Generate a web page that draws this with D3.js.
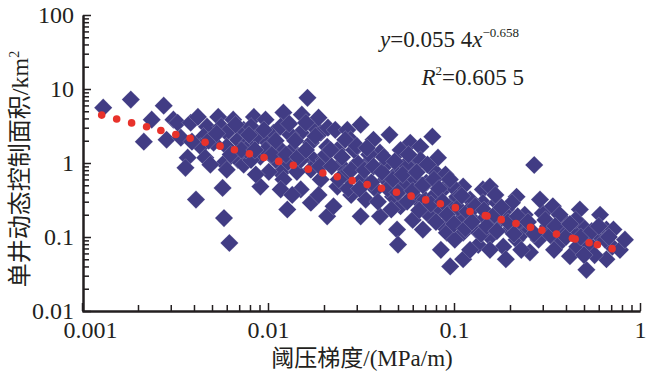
<!DOCTYPE html>
<html>
<head>
<meta charset="utf-8">
<script src="https://cdn.jsdelivr.net/npm/d3@7"></script>
<style>
  body { margin: 0; background: #fff; }
  svg { display: block; }
</style>
</head>
<body>
<div id="chart"></div>
<script>
// wells: [threshold pressure gradient (MPa/m), single well dynamic control area (km2)]
const wells = [
  [0.0013,5.6],[0.00183,7.2],[0.00215,1.94],[0.00237,3.85],[0.00275,5.95],[0.00285,2.06],[0.0031,3.85],
  [0.00327,3.5],[0.0034,2.2],[0.0037,1.18],[0.0036,0.86],[0.0041,0.32],[0.00384,3.5],[0.0042,4.2],
  [0.0047,3.1],[0.0045,2.27],[0.00435,1.66],[0.0054,4.2],[0.0056,3.1],[0.006,2.56],[0.0051,1.88],
  [0.006,1.66],[0.0058,1.0],[0.006,0.81],[0.0057,0.46],[0.0058,0.18],[0.0062,0.083],[0.0069,2.06],
  [0.0074,2.8],[0.0078,1.88],[0.0084,4.2],[0.0081,3.1],[0.0088,2.27],[0.0069,1.1],[0.0074,0.95],
  [0.0091,1.22],[0.01,1.88],[0.0091,0.48],[0.0107,2.56],[0.0113,1.66],[0.0121,4.8],[0.0117,3.1],
  [0.0127,1.0],[0.0117,0.74],[0.0121,0.6],[0.0117,0.44],[0.0127,0.235],[0.015,0.44],[0.0163,7.6],
  [0.015,2.56],[0.0176,3.1],[0.017,1.88],[0.0192,2.56],[0.0176,1.1],[0.017,0.81],[0.0192,0.6],
  [0.017,0.29],[0.0208,0.19],[0.0208,1.66],[0.0097,1.5],[0.0135,1.5],[0.0143,0.76],[0.0101,0.76],
  [0.0081,1.1],[0.0046,1.18],[0.0039,1.94],[0.0065,3.85],[0.0097,3.85],[0.0132,2.4],[0.0152,4.5],
  [0.0187,4.1],[0.02,1.1],[0.015,1.1],[0.0187,0.37],[0.0049,0.95],[0.0076,1.5],[0.0086,0.7],
  [0.011,1.1],[0.0135,0.37],
  [0.0048,2.0],[0.0053,2.5],[0.0063,1.3],[0.0067,3.3],[0.0072,1.5],[0.0079,2.4],[0.0085,1.5],
  [0.0095,2.8],[0.0105,1.3],[0.011,2.0],[0.0125,1.3],[0.013,3.4],[0.014,2.0],[0.0145,1.2],
  [0.016,1.5],[0.016,3.5],[0.018,2.3],[0.019,0.9],[0.0205,1.3],[0.021,3.0],
  [0.023,2.8],[0.0267,2.8],[0.0278,2.06],[0.0236,1.5],[0.0369,2.06],[0.04,1.38],[0.0344,1.0],
  [0.0303,1.0],[0.0236,0.48],[0.0225,0.26],[0.0315,0.19],[0.04,0.19],[0.047,0.35],[0.0494,0.74],
  [0.0582,1.88],[0.066,1.66],[0.0765,2.27],[0.0602,0.9],[0.0772,0.81],[0.071,0.54],[0.058,0.48],
  [0.0635,0.32],[0.0516,0.26],[0.06,0.17],[0.0494,0.126],[0.05,0.079],[0.068,0.126],[0.0877,0.14],
  [0.0954,0.26],[0.0877,0.44],[0.104,0.35],[0.112,0.48],[0.0915,0.114],[0.112,0.114],[0.121,0.19],
  [0.143,0.44],[0.156,0.48],[0.143,0.29],[0.17,0.29],[0.177,0.17],[0.156,0.1],[0.184,0.074],
  [0.217,0.092],[0.235,0.114],[0.256,0.062],[0.217,0.35],[0.27,0.94],[0.0954,0.04],[0.112,0.05],
  [0.217,0.155],[0.3,0.21],[0.34,0.26],[0.32,0.14],[0.385,0.17],[0.37,0.083],[0.42,0.055],
  [0.475,0.235],[0.49,0.14],[0.515,0.036],[0.58,0.114],[0.66,0.126],[0.66,0.05],[0.71,0.074],
  [0.44,0.114],[0.46,0.074],
  [0.0245,0.95],[0.026,0.7],[0.028,0.37],[0.029,1.5],[0.032,0.6],[0.0335,0.32],[0.035,1.3],
  [0.038,0.44],[0.043,0.95],[0.043,0.6],[0.045,2.4],[0.046,0.235],[0.0516,1.5],[0.054,0.51],
  [0.055,0.95],[0.062,0.6],[0.066,1.1],[0.07,0.32],[0.073,0.2],[0.079,0.37],[0.082,1.18],
  [0.09,0.7],[0.085,0.235],[0.097,0.5],[0.101,0.092],[0.108,0.17],[0.122,0.32],[0.131,0.126],
  [0.135,0.078],[0.147,0.18],[0.16,0.145],[0.167,0.37],[0.19,0.235],[0.2,0.126],[0.205,0.29],
  [0.24,0.2],[0.256,0.126],[0.285,0.092],[0.29,0.32],[0.33,0.106],[0.345,0.067],[0.39,0.126],
  [0.45,0.17],[0.54,0.078],[0.57,0.057],[0.61,0.2],[0.65,0.092],[0.72,0.126],[0.78,0.067],
  [0.83,0.092],[0.5,0.057],[0.37,0.2],[0.23,0.067],[0.19,0.05],[0.156,0.067],[0.122,0.067],
  [0.085,0.067],[0.0315,3.3],[0.026,2.06],[0.0217,1.5],
  [0.022,0.9],[0.024,0.6],[0.025,1.2],[0.027,0.45],[0.028,0.8],[0.03,1.7],[0.031,0.45],
  [0.033,0.8],[0.034,1.6],[0.036,0.55],[0.037,0.9],[0.039,0.3],[0.041,0.75],[0.042,1.2],
  [0.044,0.45],[0.047,0.6],[0.048,1.05],[0.05,0.4],[0.053,0.7],[0.056,0.3],[0.057,1.3],
  [0.06,0.42],[0.063,0.75],[0.065,0.23],[0.068,0.5],[0.072,0.95],[0.075,0.28],[0.078,0.6],
  [0.08,0.16],[0.083,0.45],[0.087,0.3],[0.092,0.2],[0.095,0.6],[0.1,0.15],[0.105,0.25],
  [0.11,0.36],[0.115,0.13],[0.118,0.22],[0.125,0.16],[0.13,0.26],[0.14,0.11],[0.145,0.23],
  [0.15,0.14],[0.165,0.2],[0.17,0.12],[0.18,0.25],[0.195,0.16],[0.21,0.11],[0.22,0.19],
  [0.25,0.16],[0.27,0.11],[0.31,0.17],[0.35,0.14],[0.4,0.1],[0.42,0.15],[0.48,0.1],
  [0.55,0.12],[0.6,0.14],[0.68,0.1]
];

// power-law trend line, drawn as round dots
const trendX = [0.001276,0.001536,0.001848,0.002225,0.002655,0.003194,0.003813,0.004588,0.005524,
  0.006597,0.007943,0.00952,0.01141,0.01368,0.01647,0.01972,0.02357,0.02836,0.03414,0.04074,
  0.04904,0.05881,0.07045,0.08447,0.1017,0.1219,0.1473,0.1505,0.1795,0.2153,0.2578,0.2968,
  0.3555,0.4332,0.448,0.5325,0.5902,0.7077];
const trendY = [4.44,3.94,3.48,3.09,2.75,2.43,2.16,1.91,1.69,1.51,1.33,1.185,1.051,0.933,0.826,
  0.733,0.652,0.577,0.511,0.455,0.403,0.357,0.317,0.2816,0.2492,0.2212,0.1953,0.1925,0.1715,
  0.1522,0.1351,0.1232,0.1094,0.096,0.0939,0.0838,0.0784,0.0696];

const xMajor = [0.001, 0.01, 0.1, 1];
const xLabels = ["0.001", "0.01", "0.1", "1"];
const yMajor = [0.01, 0.1, 1, 10, 100];
const yLabels = ["0.01", "0.1", "1", "10", "100"];

const width = 650, height = 374;
const navy = "#413c84", red = "#e8322b", ink = "#231f20";
const serif = "'Liberation Serif','Times New Roman',serif";
const cjk = "'Noto Sans CJK SC',sans-serif";

let svg = d3.select("#chart").append("svg")
  .attr("width", width)
  .attr("height", height);

let x = d3.scaleLog().domain([0.001, 1]).range([82, 640]);
let y = d3.scaleLog().domain([0.01, 100]).range([311, 15]);

// scatter
let diamond = d3.symbol().type(d3.symbolSquare).size(165);
svg.append("g")
  .selectAll("path")
  .data(wells)
  .join("path")
  .attr("d", diamond)
  .attr("transform", d => `translate(${x(d[0])},${y(d[1])}) rotate(45)`)
  .attr("fill", navy)
  .attr("stroke", "#ffffff")
  .attr("stroke-opacity", 0.35)
  .attr("stroke-width", 0.5);

// trend dots
svg.append("g")
  .selectAll("circle")
  .data(trendX)
  .join("circle")
  .attr("cx", d => x(d))
  .attr("cy", (d, i) => y(trendY[i]))
  .attr("r", 3.8)
  .attr("fill", red);

// axes
let xMinor = x.ticks().filter(v => !xMajor.includes(v));
let yMinor = y.ticks().filter(v => !yMajor.some(m => Math.abs(m - v) < 1e-9));

function styleAxis(g){
  g.select(".domain").attr("stroke", ink).attr("stroke-width", 2);
  g.selectAll(".tick line").attr("stroke", ink).attr("stroke-width", 1.5);
  g.selectAll("text").attr("font-size", 24).attr("fill", ink).style("font-family", serif);
}

svg.append("g")
  .attr("transform", "translate(0,311)")
  .call(d3.axisBottom(x).tickValues(xMinor).tickSize(-6).tickSizeOuter(0).tickFormat(""))
  .call(styleAxis);
let xAx = svg.append("g")
  .attr("transform", "translate(0,311)")
  .call(d3.axisBottom(x).tickValues(xMajor).tickSize(-8).tickSizeOuter(0).tickPadding(10)
    .tickFormat((d, i) => xLabels[i]))
  .call(styleAxis);
xAx.selectAll(".tick text").filter(d => d === 0.001).attr("x", 8);

svg.append("g")
  .attr("transform", "translate(83,0)")
  .call(d3.axisLeft(y).tickValues(yMinor).tickSize(-6).tickSizeOuter(0).tickFormat(""))
  .call(styleAxis);
svg.append("g")
  .attr("transform", "translate(83,0)")
  .call(d3.axisLeft(y).tickValues(yMajor).tickSize(-8).tickSizeOuter(0).tickPadding(9)
    .tickFormat((d, i) => yLabels[i]))
  .call(styleAxis);

// axis titles
let xt = svg.append("text")
  .attr("x", 362)
  .attr("y", 366)
  .attr("text-anchor", "middle")
  .attr("font-size", 23)
  .attr("fill", ink)
  .style("font-family", serif);
xt.append("tspan").style("font-family", cjk).text("阈压梯度");
xt.append("tspan").style("font-family", serif).text("/(MPa/m)");

let yt = svg.append("text")
  .attr("transform", "translate(28,169) rotate(-90)")
  .attr("text-anchor", "middle")
  .attr("font-size", 24)
  .attr("fill", ink)
  .style("font-family", serif);
yt.append("tspan").style("font-family", cjk).text("单井动态控制面积");
yt.append("tspan").style("font-family", serif).text("/km");
yt.append("tspan").style("font-family", serif).attr("font-size", 14).attr("dy", -9).text("2");

// equation
let eq = svg.append("text")
  .attr("x", 380)
  .attr("y", 47)
  .attr("font-size", 23)
  .attr("fill", ink)
  .style("font-family", serif);
eq.append("tspan").attr("font-style", "italic").text("y");
eq.append("tspan").text("=0.055 4");
eq.append("tspan").attr("font-style", "italic").text("x");
eq.append("tspan").attr("font-size", 13).attr("dy", -10).text("\u22120.658");

let r2 = svg.append("text")
  .attr("x", 524)
  .attr("y", 85)
  .attr("text-anchor", "end")
  .attr("font-size", 23)
  .attr("fill", ink)
  .style("font-family", serif);
r2.append("tspan").attr("font-style", "italic").text("R");
r2.append("tspan").attr("font-size", 13).attr("dy", -10).text("2");
r2.append("tspan").attr("dy", 10).text("=0.605 5");
</script>
</body>
</html>
